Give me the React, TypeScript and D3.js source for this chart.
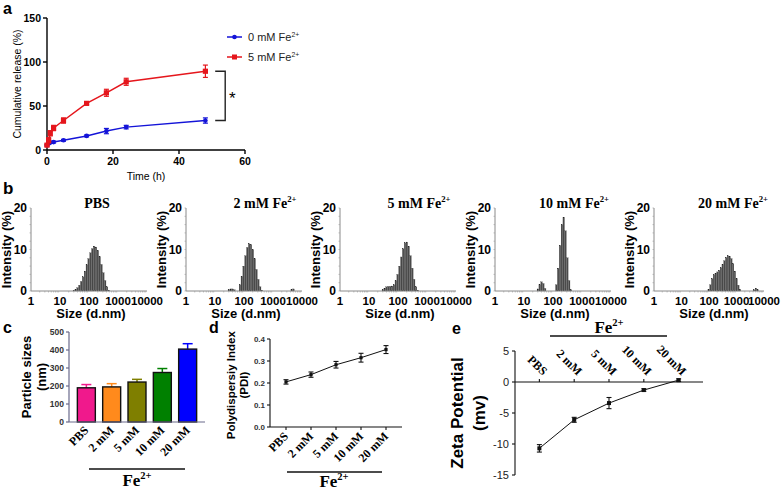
import * as d3 from "d3";

// ---- a: cumulative release ----
const releaseTimes = [0, 0.5, 1, 2, 5, 12, 18, 24, 48];
const release0mM = [5.5, 7.5, 8.5, 9, 11, 16, 21.5, 26, 33.5];
const release0mMErr = [1, 1, 1, 1, 1, 1, 3, 2, 3];
const release5mM = [5.5, 11, 19, 25, 33.5, 53, 65, 77.5, 89.5];
const release5mMErr = [1, 3, 3, 3, 3, 1.5, 4, 4, 7];

// ---- b: DLS size distributions (Zetasizer bin edges, nm) ----
const dlsBinEdges = [
  18.17, 21.04, 24.36, 28.21, 32.67, 37.84, 43.82, 50.75, 58.77, 68.06, 78.82,
  91.28, 105.7, 122.4, 141.8, 164.2, 190.1, 220.2, 255.0, 295.3, 342.0, 396.1,
  458.7, 531.2, 615.1, 712.4, 825.0, 955.4, 1106, 1281, 1484, 1718, 1990, 2305,
  2669, 3091, 3580, 4145, 4801, 5560, 6439, 7456, 8635, 10000,
];
const dlsTitles = ["PBS", "2 mM", "5 mM", "10 mM", "20 mM"];
const dlsPBS = [
  0, 0, 0, 0.2, 0.4, 0.8, 1.4, 2.3, 3.4, 4.8, 6.3, 7.8, 9.2, 10.2, 10.8, 10.6,
  9.8, 8.3, 6.4, 4.4, 2.5, 1.0, 0.2, 0, 0, 0, 0, 0, 0, 0, 0, 0, 0, 0, 0, 0, 0,
  0, 0, 0, 0, 0, 0,
];
const dls2mM = [
  0, 0, 0, 0.3, 0.5, 0.5, 0.3, 0, 0, 1.5, 3.5, 6.0, 8.5, 10.5, 11.4, 11.2, 10.0,
  7.8, 5.2, 2.8, 1.0, 0.2, 0, 0, 0, 0, 0, 0, 0, 0, 0, 0, 0, 0, 0, 0, 0, 0.3,
  0.5, 0, 0, 0, 0,
];
const dls5mM = [
  0, 0, 0, 0.3, 0.7, 1.0, 1.1, 1.1, 1.2, 1.5, 2.5, 4.0, 6.0, 8.2, 10.2, 11.6,
  11.8, 10.8, 8.5, 5.5, 2.8, 1.0, 0.2, 0, 0, 0, 0, 0, 0, 0, 0, 0, 0, 0, 0, 0,
  0, 0, 0, 0, 0, 0, 0,
];
const dls10mM = [
  0, 0, 0, 0.5, 1.5, 2.2, 1.8, 0.6, 0, 0, 0, 0, 0, 1.5, 5.5, 11.0, 16.0, 17.8,
  14.5, 8.0, 2.5, 0.3, 0, 0, 0, 0, 0, 0, 0, 0, 0, 0, 0, 0, 0, 0, 0, 0, 0, 0, 0,
  0, 0,
];
const dls20mM = [
  0, 0, 0, 0, 0, 0, 0, 0, 0, 0, 0, 0.4, 1.5, 3.0, 3.9, 4.3, 4.6, 5.0, 5.6, 6.4,
  7.3, 8.1, 8.5, 8.4, 7.8, 6.6, 4.8, 3.0, 1.4, 0.4, 0, 0, 0, 0, 0, 0, 0, 0.3,
  0.7, 0.3, 0, 0, 0,
];
const dlsSeries = [dlsPBS, dls2mM, dls5mM, dls10mM, dls20mM];
const dlsXTicks = [1, 10, 100, 1000, 10000];
const dlsYTicks = [0, 10, 20];

// ---- c, d, e ----
const concLabels = ["PBS", "2 mM", "5 mM", "10 mM", "20 mM"];
const particleSizes = [190, 195, 222, 275, 405];
const particleSizeErr = [18, 18, 15, 22, 30];
const barColors = ["#f0198c", "#ff8a1c", "#7f7f00", "#008000", "#0000ff"];
const pdiValues = [0.205, 0.238, 0.283, 0.315, 0.352];
const pdiErr = [0.01, 0.012, 0.015, 0.02, 0.018];
const zetaValues = [-10.7, -6.1, -3.4, -1.3, 0.3];
const zetaErr = [0.6, 0.4, 0.9, 0.2, 0.2];

const SANS = "'Liberation Sans', Arial, sans-serif";
const SERIF = "'Liberation Serif', 'Times New Roman', serif";

function Fe({ size }: { size: number }) {
  return (
    <>
      <tspan>Fe</tspan>
      <tspan dy={-size * 0.4} fontSize={size * 0.62}>
        2+
      </tspan>
    </>
  );
}

function PanelA() {
  const x = d3.scaleLinear([0, 60], [47, 245]);
  const y = d3.scaleLinear([0, 150], [150, 18]);
  const series = [
    { v: release0mM, e: release0mMErr, color: "#1414d8", name: "0 mM", shape: "circle" },
    { v: release5mM, e: release5mMErr, color: "#e5161c", name: "5 mM", shape: "square" },
  ];
  const line = d3
    .line<number>()
    .x((_, i) => x(releaseTimes[i]))
    .y((d) => y(d));
  const endA = y(release5mM[release5mM.length - 1]);
  const endB = y(release0mM[release0mM.length - 1]);
  const bx = x(54);
  return (
    <g fontFamily={SANS}>
      <text x={3} y={14} fontSize={16} fontWeight="bold">a</text>
      {/* axes */}
      <line x1={x(0)} x2={x(60)} y1={y(0)} y2={y(0)} stroke="#000" strokeWidth={1.4} />
      <line x1={x(0)} x2={x(0)} y1={y(0)} y2={y(150)} stroke="#000" strokeWidth={1.4} />
      {[0, 20, 40, 60].map((t) => (
        <g key={t}>
          <line x1={x(t)} x2={x(t)} y1={y(0)} y2={y(0) + 4} stroke="#000" strokeWidth={1.4} />
          <text x={x(t)} y={y(0) + 15} fontSize={10.5} fontWeight="bold" textAnchor="middle">{t}</text>
        </g>
      ))}
      {[0, 50, 100, 150].map((t) => (
        <g key={t}>
          <line x1={x(0) - 4} x2={x(0)} y1={y(t)} y2={y(t)} stroke="#000" strokeWidth={1.4} />
          <text x={x(0) - 6} y={y(t) + 3.5} fontSize={10.5} fontWeight="bold" textAnchor="end">{t}</text>
        </g>
      ))}
      <text x={x(30)} y={180} fontSize={10.5} textAnchor="middle">Time (h)</text>
      <text transform={`translate(21,${y(75)}) rotate(-90)`} fontSize={10.5} textAnchor="middle">
        Cumulative release (%)
      </text>
      {series.map((s) => (
        <g key={s.name} stroke={s.color} fill={s.color}>
          <path d={line(s.v) ?? ""} fill="none" strokeWidth={1.5} />
          {s.v.map((v, i) => {
            const cx = x(releaseTimes[i]);
            return (
              <g key={i} strokeWidth={1.2}>
                <line x1={cx} x2={cx} y1={y(v - s.e[i])} y2={y(v + s.e[i])} />
                <line x1={cx - 2.5} x2={cx + 2.5} y1={y(v - s.e[i])} y2={y(v - s.e[i])} />
                <line x1={cx - 2.5} x2={cx + 2.5} y1={y(v + s.e[i])} y2={y(v + s.e[i])} />
                {s.shape === "circle" ? (
                  <circle cx={cx} cy={y(v)} r={2.3} stroke="none" />
                ) : (
                  <rect x={cx - 2.6} y={y(v) - 2.6} width={5.2} height={5.2} stroke="none" />
                )}
              </g>
            );
          })}
        </g>
      ))}
      {/* significance bracket */}
      <path d={`M${bx - 10},${endA}H${bx}V${endB}H${bx - 10}`} fill="none" stroke="#222" strokeWidth={1.4} />
      <text x={bx + 7} y={(endA + endB) / 2 + 8} fontSize={17} textAnchor="middle">*</text>
      {/* legend */}
      {series.map((s, i) => (
        <g key={s.name} transform={`translate(0,${37 + i * 20})`}>
          <line x1={227} x2={242} y1={0} y2={0} stroke={s.color} strokeWidth={1.5} />
          {s.shape === "circle" ? (
            <circle cx={234.5} cy={0} r={2.3} fill={s.color} />
          ) : (
            <rect x={232} y={-2.5} width={5} height={5} fill={s.color} />
          )}
          <text x={248} y={4} fontSize={11} fill="#222">
            {s.name} <Fe size={11} />
          </text>
        </g>
      ))}
    </g>
  );
}

function DLSPanel({ x0, w, title, values, idx }: { x0: number; w: number; title: string; values: number[]; idx: number }) {
  const x = d3.scaleLog([1, 10000], [x0, x0 + w]);
  const y = d3.scaleLinear([0, 20], [291, 208]);
  const minor: number[] = [];
  [1, 10, 100, 1000].forEach((d) => [2, 3, 4, 5, 6, 7, 8, 9].forEach((m) => minor.push(d * m)));
  const titleX = x0 + (idx === 0 ? 66 : 79);
  return (
    <g>
      <text x={titleX} y={208} fontFamily={SERIF} fontWeight="bold" fontSize={14} textAnchor="middle">
        {title}
        {idx > 0 && (
          <>
            {" "}
            <Fe size={14} />
          </>
        )}
      </text>
      {values.map((v, i) =>
        v > 0 ? (
          <rect
            key={i}
            x={x(dlsBinEdges[i])}
            y={y(v)}
            width={Math.max(0.5, x(dlsBinEdges[i + 1]) - x(dlsBinEdges[i]) - 0.35)}
            height={y(0) - y(v)}
            fill="#4a4a4a"
            stroke="#222"
            strokeWidth={0.2}
          />
        ) : null,
      )}
      <line x1={x0} x2={x0 + w} y1={y(0)} y2={y(0)} stroke="#8a8a8a" strokeWidth={1} />
      <line x1={x0} x2={x0} y1={y(0)} y2={y(20)} stroke="#8a8a8a" strokeWidth={1} />
      {minor.map((m) => (
        <line key={m} x1={x(m)} x2={x(m)} y1={y(0)} y2={y(0) + 1.5} stroke="#999" strokeWidth={0.6} />
      ))}
      {d3.range(0, 21, 2).map((t) => (
        <line key={t} x1={x0 - 1.5} x2={x0} y1={y(t)} y2={y(t)} stroke="#999" strokeWidth={0.6} />
      ))}
      <g fontFamily={SANS} fontWeight="bold" fontSize={11.5}>
        {dlsXTicks.map((t) => (
          <text key={t} x={x(t)} y={y(0) + 14} textAnchor="middle">{t}</text>
        ))}
        {dlsYTicks.map((t) => (
          <text key={t} x={x0 - 4} y={y(t) + 4} fontSize={12} textAnchor="end">{t}</text>
        ))}
        <text x={x0 + 60} y={318} fontSize={13} textAnchor="middle">Size (d.nm)</text>
        <text transform={`translate(${x0 - 20},${y(10)}) rotate(-90)`} fontSize={13} textAnchor="middle">
          Intensity (%)
        </text>
      </g>
    </g>
  );
}

function CategoryLabels({ xs, y, rotate }: { xs: number[]; y: number; rotate: number }) {
  return (
    <g fontFamily={SERIF} fontWeight="bold" fontSize={12}>
      {concLabels.map((c, i) => (
        <text key={c} transform={`translate(${xs[i] + 3},${y}) rotate(${rotate})`} textAnchor="end">
          {c}
        </text>
      ))}
    </g>
  );
}

function PanelC() {
  const x = d3.scaleBand(concLabels, [69, 205]).paddingInner(0.29).paddingOuter(0.33);
  const y = d3.scaleLinear([0, 500], [422, 332]);
  const axisColor = "#6a6a8c";
  const centers = concLabels.map((c) => (x(c) ?? 0) + x.bandwidth() / 2);
  return (
    <g>
      <text x={3} y={333} fontFamily={SANS} fontSize={16} fontWeight="bold">c</text>
      {concLabels.map((c, i) => {
        const top = y(particleSizes[i] + particleSizeErr[i]);
        return (
          <g key={c}>
            <line x1={centers[i]} x2={centers[i]} y1={y(particleSizes[i])} y2={top} stroke={barColors[i]} strokeWidth={1.5} />
            <line x1={centers[i] - 5} x2={centers[i] + 5} y1={top} y2={top} stroke={barColors[i]} strokeWidth={1.5} />
            <rect
              x={x(c)}
              y={y(particleSizes[i])}
              width={x.bandwidth()}
              height={y(0) - y(particleSizes[i])}
              fill={barColors[i]}
              stroke="#111"
              strokeWidth={1.4}
            />
          </g>
        );
      })}
      <line x1={69} x2={205} y1={y(0)} y2={y(0)} stroke={axisColor} strokeWidth={1.2} />
      <line x1={69} x2={69} y1={y(0)} y2={y(500)} stroke={axisColor} strokeWidth={1.2} />
      {y.ticks(5).map((t) => (
        <g key={t}>
          <line x1={66} x2={69} y1={y(t)} y2={y(t)} stroke={axisColor} strokeWidth={1.2} />
          <text x={64} y={y(t) + 3} fontFamily={SANS} fontWeight="bold" fontSize={8.5} fill="#333" textAnchor="end">{t}</text>
        </g>
      ))}
      <CategoryLabels xs={centers} y={y(0) + 9} rotate={-45} />
      <line x1={89} x2={185} y1={469} y2={469} stroke="#111" strokeWidth={1.5} />
      <text x={137} y={486} fontFamily={SERIF} fontWeight="bold" fontSize={17} textAnchor="middle">
        <Fe size={17} />
      </text>
      <text transform={`translate(31,${y(250)}) rotate(-90)`} fontFamily={SANS} fontWeight="bold" fontSize={13} textAnchor="middle">
        Particle sizes
      </text>
      <text transform={`translate(46,${y(250)}) rotate(-90)`} fontFamily={SANS} fontWeight="bold" fontSize={13} textAnchor="middle">
        (nm)
      </text>
    </g>
  );
}

function PointSeries({ xs, vals, errs, y, cap, size }: { xs: number[]; vals: number[]; errs: number[]; y: d3.ScaleLinear<number, number>; cap: number; size: number }) {
  const line = d3
    .line<number>()
    .x((_, i) => xs[i])
    .y((d) => y(d));
  return (
    <g stroke="#111" fill="#111">
      <path d={line(vals) ?? ""} fill="none" strokeWidth={1} />
      {vals.map((v, i) => (
        <g key={i} strokeWidth={1.1}>
          <line x1={xs[i]} x2={xs[i]} y1={y(v - errs[i])} y2={y(v + errs[i])} />
          <line x1={xs[i] - cap} x2={xs[i] + cap} y1={y(v - errs[i])} y2={y(v - errs[i])} />
          <line x1={xs[i] - cap} x2={xs[i] + cap} y1={y(v + errs[i])} y2={y(v + errs[i])} />
          <rect x={xs[i] - size / 2} y={y(v) - size / 2} width={size} height={size} stroke="none" />
        </g>
      ))}
    </g>
  );
}

function PanelD() {
  const x = d3.scalePoint(concLabels, [270, 402]).padding(0.64);
  const y = d3.scaleLinear([0, 0.4], [427, 339]);
  const xs = concLabels.map((c) => x(c) ?? 0);
  return (
    <g>
      <text x={209} y={333} fontFamily={SANS} fontSize={16} fontWeight="bold">d</text>
      <line x1={270} x2={402} y1={y(0)} y2={y(0)} stroke="#111" strokeWidth={1.1} />
      <line x1={270} x2={270} y1={y(0)} y2={y(0.4)} stroke="#111" strokeWidth={1.1} />
      {xs.map((cx, i) => (
        <line key={i} x1={cx} x2={cx} y1={y(0)} y2={y(0) + 3} stroke="#111" strokeWidth={1.1} />
      ))}
      {[0, 0.1, 0.2, 0.3, 0.4].map((t) => (
        <g key={t}>
          <line x1={267} x2={270} y1={y(t)} y2={y(t)} stroke="#111" strokeWidth={1.1} />
          <text x={265} y={y(t) + 3} fontFamily={SANS} fontWeight="bold" fontSize={8} fill="#333" textAnchor="end">{t.toFixed(1)}</text>
        </g>
      ))}
      <PointSeries xs={xs} vals={pdiValues} errs={pdiErr} y={y} cap={2.5} size={3.2} />
      <CategoryLabels xs={xs} y={y(0) + 10} rotate={-45} />
      <line x1={287} x2={382} y1={472} y2={472} stroke="#111" strokeWidth={1.5} />
      <text x={334} y={487} fontFamily={SERIF} fontWeight="bold" fontSize={17} textAnchor="middle">
        <Fe size={17} />
      </text>
      <text transform={`translate(235,${y(0.19)}) rotate(-90)`} fontFamily={SANS} fontWeight="bold" fontSize={11.5} textAnchor="middle">
        Polydispersiy Index
      </text>
      <text transform={`translate(248,${y(0.19)}) rotate(-90)`} fontFamily={SANS} fontWeight="bold" fontSize={11.5} textAnchor="middle">
        (PDI)
      </text>
    </g>
  );
}

function PanelE() {
  const x = d3.scalePoint(concLabels, [515, 703]).padding(0.7);
  const y = d3.scaleLinear([-15, 5], [475, 351]);
  const xs = concLabels.map((c) => x(c) ?? 0);
  return (
    <g>
      <text x={452} y={334} fontFamily={SANS} fontSize={16} fontWeight="bold">e</text>
      <line x1={515} x2={703} y1={y(0)} y2={y(0)} stroke="#111" strokeWidth={1.1} />
      <line x1={515} x2={515} y1={y(-15)} y2={y(5)} stroke="#111" strokeWidth={1.1} />
      {xs.map((cx, i) => (
        <line key={i} x1={cx} x2={cx} y1={y(0)} y2={y(0) - 3} stroke="#111" strokeWidth={1.1} />
      ))}
      {y.ticks(4).map((t) => (
        <g key={t}>
          <line x1={512} x2={515} y1={y(t)} y2={y(t)} stroke="#111" strokeWidth={1.1} />
          <text x={509} y={y(t) + 4} fontFamily={SANS} fontSize={11} fill="#222" textAnchor="end">{t}</text>
        </g>
      ))}
      <PointSeries xs={xs} vals={zetaValues} errs={zetaErr} y={y} cap={2.5} size={4} />
      <CategoryLabels xs={xs} y={y(0) - 6} rotate={45} />
      <line x1={550} x2={667} y1={336} y2={336} stroke="#111" strokeWidth={1.5} />
      <text x={609} y={333} fontFamily={SERIF} fontWeight="bold" fontSize={17} textAnchor="middle">
        <Fe size={17} />
      </text>
      <text transform={`translate(463,${y(-5)}) rotate(-90)`} fontFamily={SANS} fontWeight="bold" fontSize={17} textAnchor="middle">
        Zeta Potential
      </text>
      <text transform={`translate(485,${y(-5)}) rotate(-90)`} fontFamily={SANS} fontWeight="bold" fontSize={17} textAnchor="middle">
        (mv)
      </text>
    </g>
  );
}

export default function App() {
  const dlsX0 = [31, 186, 340, 495, 654];
  const dlsW = [116, 116, 116, 116, 110];
  return (
    <div style={{ position: "absolute", left: 0, top: 0 }}>
      <svg width={784} height={491} style={{ display: "block", background: "#fff" }}>
        <PanelA />
        <text x={3} y={194} fontFamily={SANS} fontSize={17} fontWeight="bold">b</text>
        {dlsTitles.map((t, i) => (
          <DLSPanel key={t} x0={dlsX0[i]} w={dlsW[i]} title={t} values={dlsSeries[i]} idx={i} />
        ))}
        <PanelC />
        <PanelD />
        <PanelE />
      </svg>
    </div>
  );
}
